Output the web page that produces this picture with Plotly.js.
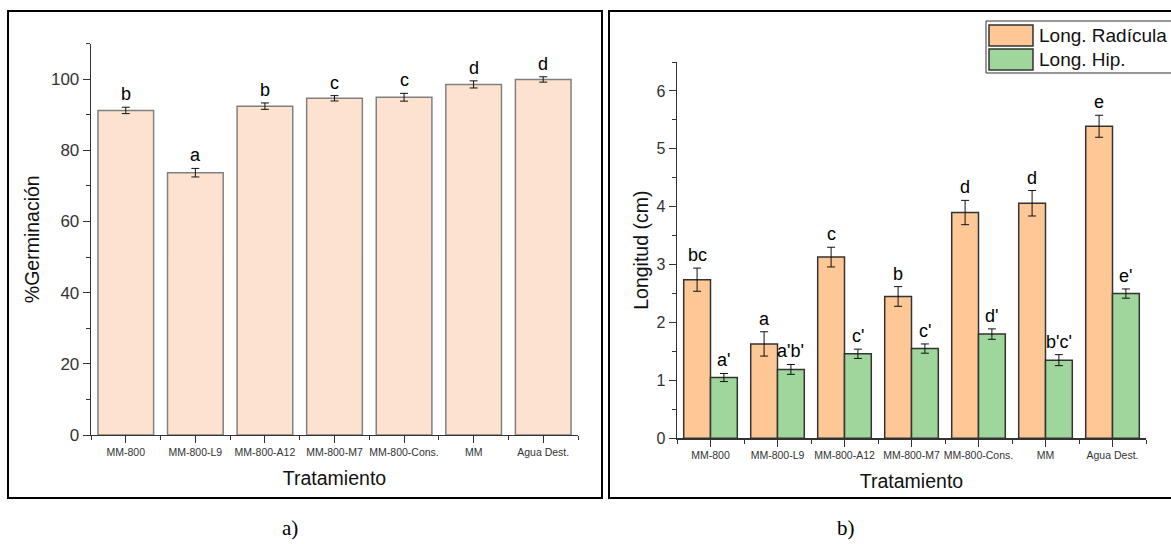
<!DOCTYPE html>
<html>
<head>
<meta charset="utf-8">
<script src="https://cdn.plot.ly/plotly-3.0.1.min.js"></script>
<style>html,body{margin:0;padding:0;background:#fff;}#chart{width:1171px;height:544px;}</style>
</head>
<body>
<div id="chart"></div>
<script>
// ---- data ----
const categories = ["MM-800", "MM-800-L9", "MM-800-A12", "MM-800-M7", "MM-800-Cons.", "MM", "Agua Dest."];
// panel a) % germination
const germValues = [91.2, 73.7, 92.4, 94.6, 94.9, 98.5, 99.9];
const germErrors = [0.9, 1.2, 0.9, 0.75, 1.1, 1.0, 0.75];
const germLetters = ["b", "a", "b", "c", "c", "d", "d"];
// panel b) lengths (cm)
const seriesNames = ["Long. Radícula", "Long. Hip."];
const radValues = [2.74, 1.63, 3.13, 2.45, 3.90, 4.06, 5.39];
const radErrors = [0.20, 0.21, 0.17, 0.17, 0.21, 0.22, 0.19];
const radLetters = ["bc", "a", "c", "b", "d", "d", "e"];
const hipValues = [1.05, 1.19, 1.46, 1.55, 1.80, 1.35, 2.50];
const hipErrors = [0.07, 0.085, 0.08, 0.08, 0.09, 0.095, 0.08];
const hipLetters = ["a'", "a'b'", "c'", "c'", "d'", "b'c'", "e'"];
const panelLabels = ["a)", "b)"];

// ---- styles ----
const FONT = "Liberation Sans, Arial, sans-serif";
const W = 1171, H = 544;
const px = v => v / W;
const py = v => 1 - v / H;
const idx = categories.map((c, i) => i);
const colGerm = "#fde3cf", colRad = "#fdc896", colHip = "#9fd69b";

const traces = [
  {type: "bar", x: idx, y: germValues, xaxis: "x", yaxis: "y", width: 0.8,
   marker: {color: colGerm, line: {color: "#808080", width: 1.5}},
   error_y: {type: "data", array: germErrors, visible: true, color: "#111", thickness: 1, width: 4},
   showlegend: false, hoverinfo: "skip"},
  {type: "bar", x: idx, y: radValues, xaxis: "x2", yaxis: "y2", name: seriesNames[0], offsetgroup: "r",
   marker: {color: colRad, line: {color: "#333", width: 1.5}},
   error_y: {type: "data", array: radErrors, visible: true, color: "#111", thickness: 1, width: 4},
   showlegend: false, hoverinfo: "skip"},
  {type: "bar", x: idx, y: hipValues, xaxis: "x2", yaxis: "y2", name: seriesNames[1], offsetgroup: "h",
   marker: {color: colHip, line: {color: "#333", width: 1.5}},
   error_y: {type: "data", array: hipErrors, visible: true, color: "#111", thickness: 1, width: 4},
   showlegend: false, hoverinfo: "skip"}
];

function xAxis(domain, anchor) {
  return {domain: domain, anchor: anchor, range: [-0.5, 6.5], fixedrange: true,
    tickmode: "array", tickvals: idx, ticktext: categories,
    tickfont: {family: FONT, size: 10.5, color: "#333"},
    ticks: "outside", ticklen: 7, tickwidth: 1, tickcolor: "#333",
    minor: {tickmode: "linear", tick0: -0.5, dtick: 1, ticks: "outside", ticklen: 4, tickwidth: 1, tickcolor: "#333", showgrid: false},
    showline: true, linecolor: "#333", linewidth: 1.3, showgrid: false, zeroline: false,
    title: {text: "Tratamiento", font: {family: FONT, size: 19.5, color: "#111"}, standoff: 14}};
}
function yAxis(domain, anchor, range, dtick, title, fs, so) {
  return {domain: domain, anchor: anchor, range: range, fixedrange: true,
    dtick: dtick, tick0: 0, tickfont: {family: FONT, size: fs, color: "#333"},
    ticks: "outside", ticklen: 7, tickwidth: 1, tickcolor: "#333",
    minor: {dtick: dtick / 2, ticks: "outside", ticklen: 4, tickwidth: 1, tickcolor: "#333", showgrid: false},
    showline: true, linecolor: "#333", linewidth: 1.3, showgrid: false, zeroline: false,
    title: {text: title, font: {family: FONT, size: 19.5, color: "#111"}, standoff: so}};
}

const annotations = [];
germValues.forEach((v, i) => annotations.push({xref: "x", yref: "y", x: i, y: v + germErrors[i],
  text: germLetters[i], showarrow: false, yanchor: "bottom", yshift: 1, font: {family: FONT, size: 18, color: "#000"}}));
radValues.forEach((v, i) => annotations.push({xref: "x2", yref: "y2", x: i - 0.2, y: v + radErrors[i],
  text: radLetters[i], showarrow: false, yanchor: "bottom", yshift: 1, font: {family: FONT, size: 18, color: "#000"}}));
hipValues.forEach((v, i) => annotations.push({xref: "x2", yref: "y2", x: i + 0.2, y: v + hipErrors[i],
  text: hipLetters[i], showarrow: false, yanchor: "bottom", yshift: 1, font: {family: FONT, size: 18, color: "#000"}}));
// panel captions
annotations.push({xref: "paper", yref: "paper", x: px(280), y: py(542), yanchor: "bottom", text: panelLabels[0], showarrow: false,
  font: {family: "Liberation Serif, Times New Roman, serif", size: 21, color: "#000"}});
annotations.push({xref: "paper", yref: "paper", x: px(857), y: py(542), yanchor: "bottom", text: panelLabels[1], showarrow: false,
  font: {family: "Liberation Serif, Times New Roman, serif", size: 21, color: "#000"}});
// legend text
const legRows = [py(35.5), py(59.5)];
seriesNames.forEach((n, k) => annotations.push({xref: "paper", yref: "paper", x: px(1037), y: legRows[k], text: n,
  showarrow: false, xanchor: "left", yanchor: "middle", font: {family: FONT, size: 19, color: "#111"}}));

const shapes = [
  // panel borders
  {type: "rect", xref: "paper", yref: "paper", x0: px(8), x1: px(602), y0: py(498), y1: py(11), line: {color: "#000", width: 2}},
  {type: "rect", xref: "paper", yref: "paper", x0: px(609), x1: px(1180), y0: py(498), y1: py(11), line: {color: "#000", width: 2}},
  // legend box
  {type: "rect", xref: "paper", yref: "paper", x0: px(986), x1: px(1180), y0: py(73), y1: py(21), fillcolor: "#fff", line: {color: "#333", width: 1}},
  {type: "rect", xref: "paper", yref: "paper", x0: px(989), x1: px(1033), y0: py(46), y1: py(25), fillcolor: colRad, line: {color: "#333", width: 1.5}},
  {type: "rect", xref: "paper", yref: "paper", x0: px(989), x1: px(1033), y0: py(70), y1: py(49), fillcolor: colHip, line: {color: "#333", width: 1.5}}
];

const layout = {
  width: W, height: H, margin: {l: 0, r: 0, t: 0, b: 0},
  paper_bgcolor: "#fff", plot_bgcolor: "rgba(0,0,0,0)",
  barmode: "group", bargap: 0.2, bargroupgap: 0,
  showlegend: false,
  xaxis: xAxis([px(91), px(578)], "y"),
  yaxis: yAxis([py(435), py(43.5)], "x", [0, 110], 20, "%Germinación", 17, 6),
  xaxis2: xAxis([px(677), px(1146)], "y2"),
  yaxis2: yAxis([py(438.3), py(62)], "x2", [0, 6.5], 1, "Longitud (cm)", 16, 2),
  annotations: annotations,
  shapes: shapes
};

Plotly.newPlot("chart", traces, layout, {staticPlot: true, displayModeBar: false});
</script>
</body>
</html>
